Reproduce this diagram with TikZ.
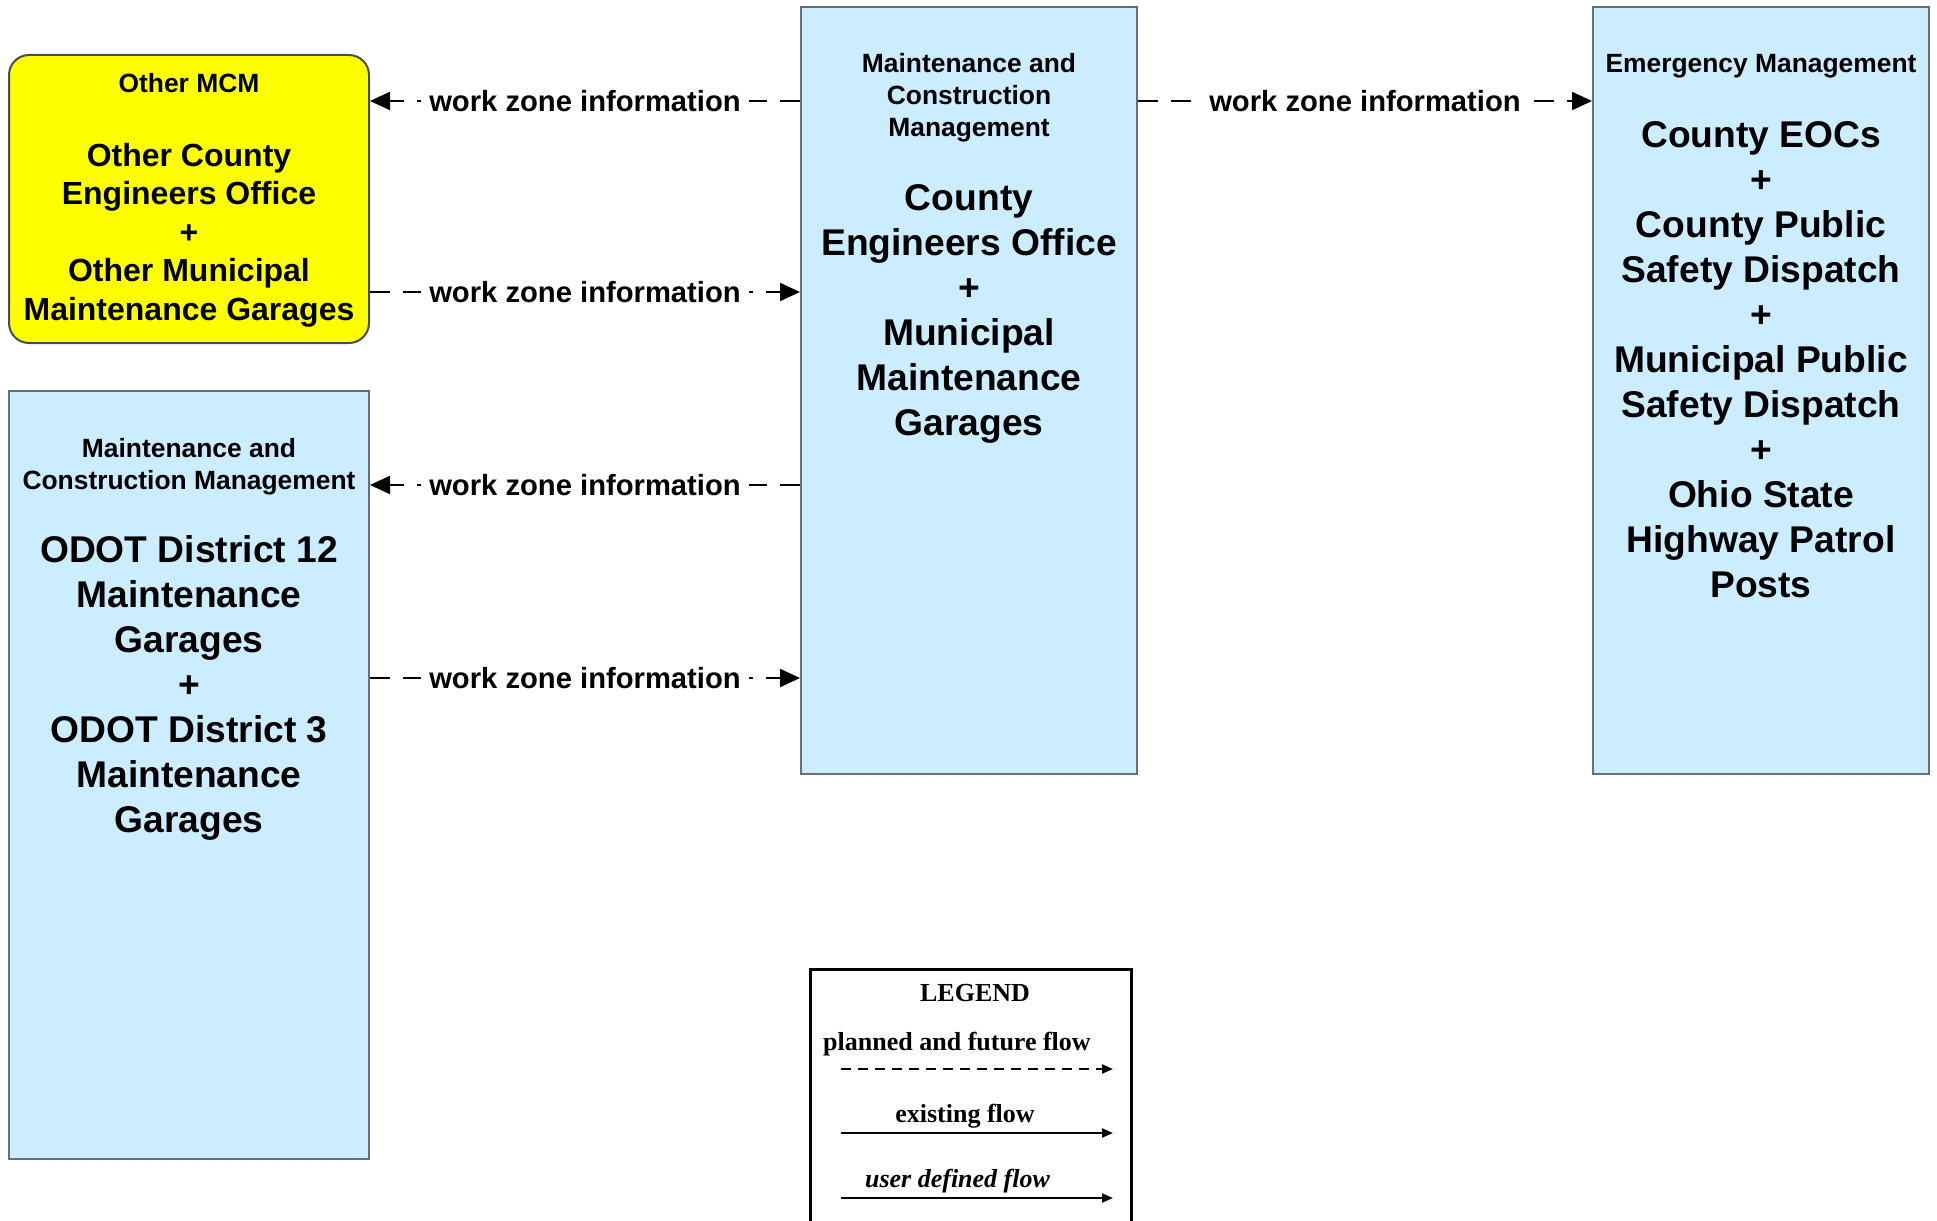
\documentclass[tikz,border=0pt]{standalone}
\usepackage{fontspec}
\setmainfont{Liberation Sans}
\newfontfamily\legendfont{Liberation Serif}
\usetikzlibrary{arrows.meta, positioning}

\definecolor{boxblue}{RGB}{204,236,255}
\definecolor{boxline}{RGB}{100,112,124}
\definecolor{mcmyellow}{RGB}{255,255,0}

\begin{document}
\begin{tikzpicture}[x=0.5pt, y=-0.5pt, font=\bfseries,
    agency/.style={rectangle, draw=boxline, line width=1pt, fill=boxblue, anchor=north west, inner sep=0pt},
    head/.style={align=center, inner sep=0pt, font=\bfseries\fontsize{13.2pt}{16pt}\selectfont},
    members/.style={align=center, inner sep=0pt, font=\bfseries\fontsize{18.6pt}{22.5pt}\selectfont},
    flow/.style={line width=1.1pt, dash pattern=on 10pt off 6.5pt, -{Triangle[length=10pt, width=9pt]}},
    flowlabel/.style={fill=white, inner sep=4pt, font=\bfseries\fontsize{14.6pt}{17pt}\selectfont},
    legendtext/.style={anchor=base, inner sep=0pt, font=\legendfont\bfseries\fontsize{13pt}{15pt}\selectfont},
    legendarrow/.style={line width=1pt, -{Triangle[length=5.5pt, width=4.5pt]}}]
    \useasboundingbox (0,0) rectangle (1937,1220);
    \clip (0,0) rectangle (1937,1220);

    % agencies
    \node [agency, fill=mcmyellow, draw=boxline!70!black, rounded corners=10pt, minimum width=180pt, minimum height=144pt] (othermcm) at (8,54) {};
    \node [head, below=9.5pt of othermcm.north] (othermcmhead) {Other MCM};
    \node [members, font=\bfseries\fontsize{16pt}{19.25pt}\selectfont, below=44.25pt of othermcm.north] (othermcmbody)
        {Other County\\Engineers Office\\+\\Other Municipal\\Maintenance Garages};

    \node [agency, minimum width=180pt, minimum height=384pt] (odot) at (8,390) {};
    \node [head, below=24pt of odot.north] (odothead) {Maintenance and\\Construction Management};
    \node [members, below=72.5pt of odot.north] (odotbody)
        {ODOT District 12\\Maintenance\\Garages\\+\\ODOT District 3\\Maintenance\\Garages};

    \node [agency, minimum width=168pt, minimum height=383.5pt] (ceo) at (800,6) {};
    \node [head, below=23.5pt of ceo.north] (ceohead) {Maintenance and\\Construction\\Management};
    \node [members, below=89pt of ceo.north] (ceobody)
        {County\\Engineers Office\\+\\Municipal\\Maintenance\\Garages};

    \node [agency, minimum width=168pt, minimum height=383.5pt] (ema) at (1592,6) {};
    \node [head, below=24pt of ema.north] (emahead) {Emergency Management};
    \node [members, below=57.5pt of ema.north] (emabody)
        {County EOCs\\+\\County Public\\Safety Dispatch\\+\\Municipal Public\\Safety Dispatch\\+\\Ohio State\\Highway Patrol\\Posts};

    % flows
    \coordinate (row1) at (0,101);
    \coordinate (row2) at (0,292);
    \coordinate (row3) at (0,485);
    \coordinate (row4) at (0,678);

    \draw [flow] (ceo.west |- row1) -- node [flowlabel] {work zone information} (othermcm.east |- row1);
    \draw [flow] (othermcm.east |- row2) -- node [flowlabel] {work zone information} (ceo.west |- row2);
    \draw [flow] (ceo.west |- row3) -- node [flowlabel] {work zone information} (odot.east |- row3);
    \draw [flow] (odot.east |- row4) -- node [flowlabel] {work zone information} (ceo.west |- row4);
    \draw [flow] (ceo.east |- row1) -- node [flowlabel] {work zone information} (ema.west |- row1);

    % legend
    \node [rectangle, draw=black, line width=1.4pt, anchor=north west, inner sep=0pt, minimum width=160.5pt, minimum height=136pt] (legend) at (809,968) {};
    \node [legendtext] (legendtitle) at (975,1001.7) {LEGEND};
    \node [legendtext] (plannedtext) at (957,1050) {planned and future flow};
    \node [legendtext] (existingtext) at (965,1122) {existing flow};
    \node [legendtext, font=\legendfont\bfseries\itshape\fontsize{13pt}{15pt}\selectfont] (usertext) at (957.5,1187) {user defined flow};
    \coordinate (planneds) at (841,1069);
    \coordinate (plannede) at (1113,1069);
    \coordinate (existings) at (841,1133);
    \coordinate (existinge) at (1113,1133);
    \coordinate (users) at (841,1198);
    \coordinate (usere) at (1113,1198);
    \draw [legendarrow, dash pattern=on 5pt off 3.5pt] (planneds) -- (plannede);
    \draw [legendarrow] (existings) -- (existinge);
    \draw [legendarrow] (users) -- (usere);
\end{tikzpicture}
\end{document}
